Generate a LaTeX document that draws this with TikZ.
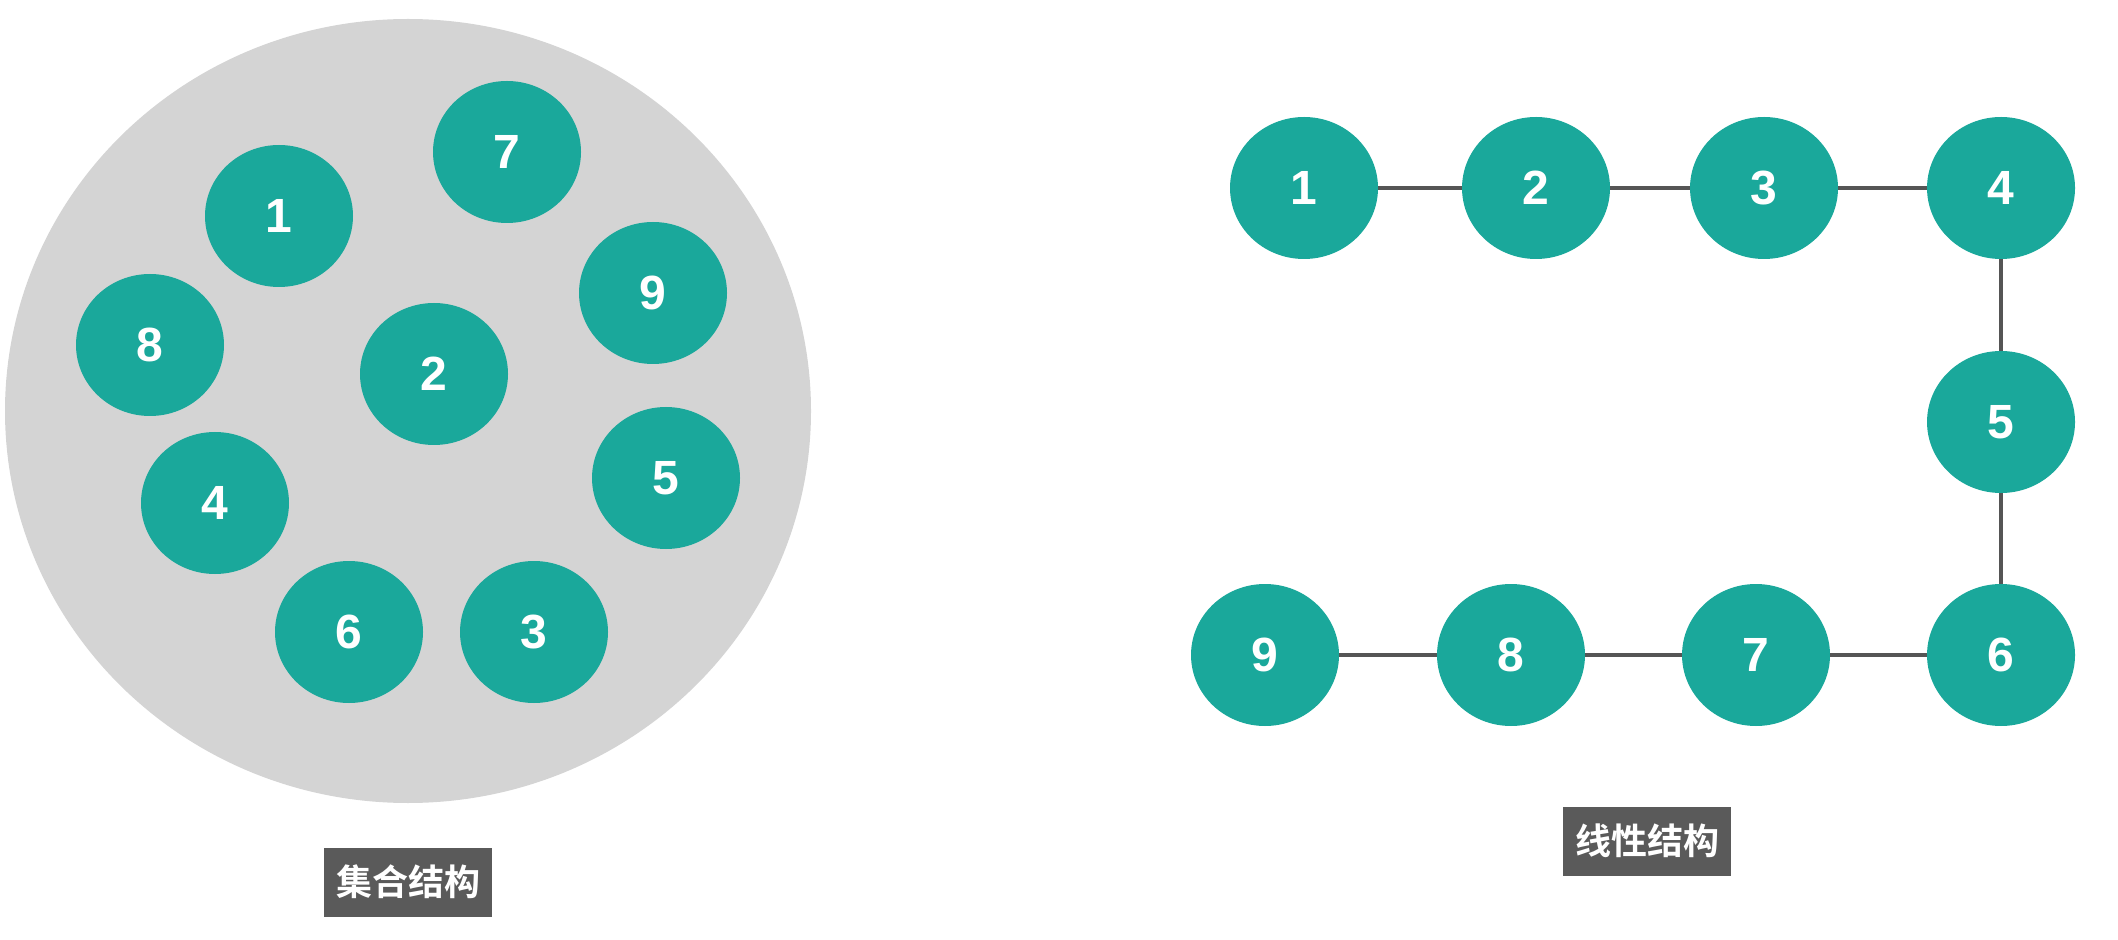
\documentclass[tikz,border=0pt]{standalone}
\usepackage{fontspec}
\setmainfont{Liberation Sans}
\newfontfamily\cjk{Noto Sans CJK SC}[BoldFont={Noto Sans CJK SC Bold}]
\usetikzlibrary{shapes.geometric}
\definecolor{teal1}{HTML}{1AA89B}
\definecolor{setgray}{HTML}{D4D4D4}
\definecolor{edgegray}{HTML}{555555}
\definecolor{labgray}{HTML}{5A5A5A}
\tikzset{
  elem/.style={ellipse, fill=teal1, minimum width=74pt, minimum height=71pt, inner sep=0pt,
    text=white, font=\fontsize{24pt}{24pt}\selectfont\bfseries},
  link/.style={draw=edgegray, line width=1.6pt},
  caption/.style={fill=labgray, text=white, minimum width=84pt, minimum height=34.5pt, inner sep=0pt,
    font=\cjk\fontsize{18pt}{18pt}\selectfont\bfseries},
  setarea/.style={ellipse, fill=setgray, minimum width=403pt, minimum height=392pt, inner sep=0pt}
}
\begin{document}
\begin{tikzpicture}[x=0.5pt,y=-0.5pt]
\useasboundingbox (0,0) rectangle (2118,940);
% left: set structure
\node[setarea] (set) at (408,411) {};
\node[elem] (s7) at (507,152) {7};
\node[elem] (s1) at (279,216) {1};
\node[elem] (s9) at (653,293) {9};
\node[elem] (s8) at (150,345) {8};
\node[elem] (s2) at (434,374) {2};
\node[elem] (s5) at (666,478) {5};
\node[elem] (s4) at (215,503) {4};
\node[elem] (s6) at (349,632) {6};
\node[elem] (s3) at (534,632) {3};
\node[caption] (capset) at (408,882) {集合结构};
% right: linear structure
\node[elem] (l1) at (1304,188) {1};
\node[elem] (l2) at (1536,188) {2};
\node[elem] (l3) at (1764,188) {3};
\node[elem] (l4) at (2001,188) {4};
\node[elem] (l5) at (2001,422) {5};
\node[elem] (l6) at (2001,655) {6};
\node[elem] (l7) at (1756,655) {7};
\node[elem] (l8) at (1511,655) {8};
\node[elem] (l9) at (1265,655) {9};
\begin{scope}[on background layer/.style={}]
\end{scope}
\draw[link] (l1) -- (l2);
\draw[link] (l2) -- (l3);
\draw[link] (l3) -- (l4);
\draw[link] (l4) -- (l5);
\draw[link] (l5) -- (l6);
\draw[link] (l6) -- (l7);
\draw[link] (l7) -- (l8);
\draw[link] (l8) -- (l9);
\node[caption] (caplin) at (1647,841) {线性结构};
\end{tikzpicture}
\end{document}
